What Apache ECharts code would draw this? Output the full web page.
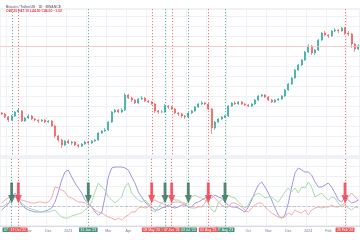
<!DOCTYPE html>
<html><head><meta charset="utf-8">
<script src="https://cdn.jsdelivr.net/npm/echarts@6/dist/echarts.min.js"></script>
<style>html,body{margin:0;padding:0;background:#fff}#c{width:360px;height:240px}</style>
</head><body><div id="c"></div>
<script>
// Price candles (open, close, low, high)
const opens=[43,42,39,36,40,44,45,35,38,40,37,36,35,36,34,35,30,20,16,11,15,13,14,11,10,12,14,13,15,16,23,25,26,34,44,46,44,46,61,58,56,53,57,58,55,54,52,45,44,44,50,49,47,43,42,40,39,43,45,49,52,53,52,47,28,34,37,39,40,50,53,52,54,52,51,50,52,56,60,61,59,56,54,56,57,60,66,72,78,86,91,96,104,110,103,106,116,123,121,120,125,126,125,128,123,122,112,107];
const closes=[42,39,36,40,44,46,35,38,40,37,36,35,36,34,35,30,20,16,11,15,13,14,11,10,12,14,13,15,16,23,25,26,34,44,46,44,46,61,58,56,53,57,58,55,54,52,45,44,44,50,49,47,43,42,40,39,43,45,49,52,53,52,47,28,34,37,39,40,50,53,52,54,52,51,50,52,56,60,61,59,56,54,56,57,60,66,72,78,86,91,96,104,110,103,106,116,123,121,120,125,126,125,128,123,122,112,107,110];
const lows=[41,38,34,35,39,43,34,34,37,36,35,33,34,33,33,29,18,14,8,10,12,11,10,8,9,11,12,12,14,15,22,24,25,33,43,43,43,45,57,54,52,52,56,54,53,51,43,42,43,43,47,46,42,40,38,37,38,42,44,48,51,51,46,22,26,33,36,38,39,49,51,51,51,50,49,49,51,55,59,58,55,53,53,55,56,59,65,71,77,85,90,95,103,101,101,105,115,120,118,119,124,123,124,121,120,108,104,106];
const highs=[44,43,40,41,45,48,46,39,42,41,38,37,37,37,36,36,31,21,17,16,17,15,15,12,13,15,15,16,17,24,26,28,35,45,47,47,48,63,62,59,57,58,60,59,56,55,53,46,46,52,51,50,48,44,43,41,44,46,50,53,55,54,53,48,35,38,40,41,51,54,55,55,55,53,52,53,57,61,62,62,60,57,57,58,61,67,73,79,87,92,97,105,112,111,107,117,124,125,122,126,128,127,129,129,125,123,113,112];
// DMI indicator
const adx=[16,19,22,29,33,28,21,18,16,15,14,14,14,15,16,18,24,34,46,54,56,49,43,38,33,26,23,19,14,11,13,29,49,58,59,59,59,58,56,49,43,34,29,24,21,19,16,16,18,19,21,19,18,19,21,21,19,19,23,24,26,28,29,28,31,29,28,24,21,19,19,18,16,14,19,26,34,41,44,39,33,26,18,11,8,11,23,39,53,58,56,54,54,51,44,39,39,41,43,39,33,26,24,29,26,23,24,26];
const diPlus=[19,21,23,24,29,26,23,20,18,17,16,15,14,14,14,15,16,12,9,8,8,10,11,12,13,16,19,24,34,43,39,36,29,26,23,26,29,39,43,33,29,26,24,26,23,16,14,19,23,26,29,28,26,26,24,21,24,29,31,29,28,26,23,16,14,23,26,29,31,29,28,24,21,18,21,28,31,33,31,28,29,29,26,24,29,34,38,34,38,33,39,38,44,39,29,31,33,29,26,29,28,23,19,21,18,16,19,18];
const diMinus=[23,26,28,31,29,28,26,25,24,23,23,24,24,23,24,28,39,38,36,34,29,28,26,24,24,23,21,19,16,14,13,11,9,8,6,8,6,9,11,14,14,18,19,18,19,24,26,24,23,21,19,23,24,24,23,23,19,18,18,19,19,23,29,31,28,24,21,19,19,23,23,21,19,16,14,18,21,23,23,19,16,13,11,9,8,9,13,11,16,14,13,16,11,16,18,19,18,19,19,21,19,19,21,23,29,33,29,26];
const diLevel=20;
// x-axis ticks
const tickLabels=['Oct','Nov','Dec','2023','Feb','Mar','Apr','May','Jun','Jul','Aug','Sep','Oct','Nov','Dec','2024','Feb','Mar'];
const tickStart=2, tickStep=6;
// signals
const buyIdx=[3,26,49,56,67];
const buyDate=["07 Oct '22","31 Jan '23","28 May '23","03 Jul '23","27 Aug '23"];
const sellIdx=[5,45,51,62,103];
const sellDate=["17 Oct '22","08 May '23","07 Jun '23","02 Aug '23","26 Feb '24"];
const arrowLevel=33;

const categories=closes.map((_,i)=>String(i));
const candleData=closes.map((c,i)=>[opens[i],c,lows[i],highs[i]]);
const UP='#26a69a', DOWN='#ef5350';
const LINE_G='#6cb49a', LINE_R='#f47a7d', TAG_G='#4a9577', TAG_R='#f05a5a', ARR_G='#2d6c53', ARR_R='#f23645';
const gridCol='#eff1f6';
const DASH=[1.2,1.8];

const tagLines=(idx,dates,bg,color)=>idx.map((ix,k)=>({xAxis:categories[ix],lineStyle:{color:color,type:DASH,width:1},
  label:{show:true,position:'start',distance:1.5,formatter:dates[k],color:'#fff',fontSize:3.4,padding:[0.8,1.5],backgroundColor:bg,borderRadius:0.5}}));
const arrowPath='path://M3,0 L7,0 L7,12 L10,12 L5,20 L0,12 L3,12 Z';
// vertical signal lines in the price pane, drawn through the axis scale
const vLineSeries=(idx,color)=>({type:'custom',xAxisIndex:0,yAxisIndex:0,silent:true,z:1,clip:false,
  data:idx.map(ix=>[categories[ix]]),encode:{x:0},
  renderItem:(params,api)=>{
    const top=api.coord([api.value(0),147]);
    const bot=api.coord([api.value(0),0]);
    return {type:'line',shape:{x1:Math.round(top[0])+0.5,y1:top[1],x2:Math.round(bot[0])+0.5,y2:bot[1]},
      style:{stroke:color,lineWidth:1,lineDash:DASH}};
  }});

const chart=echarts.init(document.getElementById('c'),null,{renderer:'canvas'});
const xCommon={type:'category',data:categories,boundaryGap:true,
  axisTick:{show:false},
  splitLine:{show:true,interval:(i)=>i%tickStep===tickStart,lineStyle:{color:gridCol,width:1}}};
chart.setOption({
  animation:false,
  title:{left:1,top:0,text:'{g|Bitcoin / TetherUS · 1D · BINANCE}\n{r|O46.20}{g| }{r|H47.10}{g| }{r|L44.90}{g| }{r|C46.00 −1.02}',
    textStyle:{rich:{g:{color:'#787b86',fontSize:3.4,lineHeight:3.8},r:{color:'#f23645',fontSize:3.4,lineHeight:3.8}}}},
  grid:[{left:0,right:0,top:9,height:147,show:true,borderColor:'#dcdee4',borderWidth:0.8},
        {left:0,right:0,top:158,height:68,show:true,borderColor:'#dcdee4',borderWidth:0.8}],
  xAxis:[Object.assign({gridIndex:0,axisLine:{show:false},axisLabel:{show:false}},xCommon),
         Object.assign({gridIndex:1,axisLine:{show:true,lineStyle:{color:'#d1d4dc',width:0.8}},
           axisLabel:{show:true,interval:(i)=>i%tickStep===tickStart,formatter:(v,i)=>tickLabels[(i-tickStart)/tickStep]||'',
             color:'#787b86',fontSize:3.6,margin:3}},xCommon)],
  yAxis:[{gridIndex:0,min:0,max:147,interval:10,axisLabel:{show:false},axisLine:{show:false},axisTick:{show:false},
          splitLine:{show:true,lineStyle:{color:gridCol,width:1}}},
         {gridIndex:1,min:0,max:68,interval:10,axisLabel:{show:false},axisLine:{show:false},axisTick:{show:false},
          splitLine:{show:true,lineStyle:{color:gridCol,width:1}}}],
  series:[
    {type:'line',xAxisIndex:0,yAxisIndex:0,data:[],markLine:{silent:true,symbol:'none',label:{show:false},lineStyle:{type:'solid',width:0.8,color:'#f7c4c4'},data:[{yAxis:closes[closes.length-1]}]}},
    vLineSeries(buyIdx,LINE_G),
    vLineSeries(sellIdx,LINE_R),
    {type:'candlestick',xAxisIndex:0,yAxisIndex:0,data:candleData,barWidth:1.4,z:3,
     itemStyle:{color:UP,color0:DOWN,borderColor:UP,borderColor0:DOWN,borderWidth:0.6}},
    {type:'line',xAxisIndex:1,yAxisIndex:1,data:[],markLine:{silent:true,symbol:'none',label:{show:false},lineStyle:{type:'dashed',color:'#b8bbc4',width:0.8},data:[{yAxis:diLevel}]}},
    {type:'line',xAxisIndex:1,yAxisIndex:1,data:[],color:LINE_G,markLine:{silent:true,symbol:'none',lineStyle:{color:LINE_G,type:DASH,width:1},data:tagLines(buyIdx,buyDate,TAG_G,LINE_G)}},
    {type:'line',xAxisIndex:1,yAxisIndex:1,data:[],color:LINE_R,markLine:{silent:true,symbol:'none',lineStyle:{color:LINE_R,type:DASH,width:1},data:tagLines(sellIdx,sellDate,TAG_R,LINE_R)}},
    {type:'line',xAxisIndex:1,yAxisIndex:1,data:adx,symbol:'none',lineStyle:{color:'#a097e4',width:1},z:3},
    {type:'line',xAxisIndex:1,yAxisIndex:1,data:diPlus,symbol:'none',lineStyle:{color:'#a9dcab',width:1},z:3},
    {type:'line',xAxisIndex:1,yAxisIndex:1,data:diMinus,symbol:'none',lineStyle:{color:'#f6abab',width:1},z:3},
    {type:'scatter',xAxisIndex:1,yAxisIndex:1,symbol:arrowPath,symbolSize:[7,21],z:5,itemStyle:{color:ARR_G},
     data:buyIdx.map(ix=>[categories[ix],arrowLevel])},
    {type:'scatter',xAxisIndex:1,yAxisIndex:1,symbol:arrowPath,symbolSize:[7,21],z:5,itemStyle:{color:ARR_R},
     data:sellIdx.map(ix=>[categories[ix],arrowLevel])}
  ]
});
</script></body></html>
